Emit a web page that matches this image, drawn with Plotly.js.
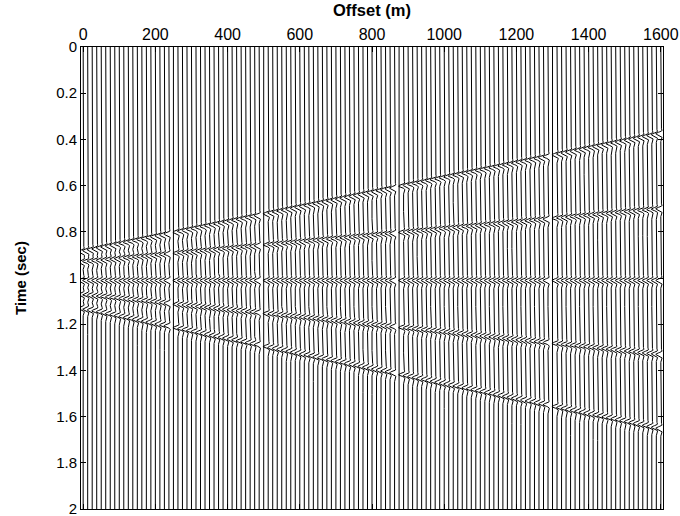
<!DOCTYPE html>
<html><head><meta charset="utf-8">
<script src="https://cdn.plot.ly/plotly-3.0.1.min.js"></script>
<style>html,body{margin:0;padding:0;background:#fff}#chart{width:680px;height:516px}</style>
</head><body><div id="chart"></div>
<script>
// Trace offsets (m)
const traceSpacing = 12.5;
const offsets = [];
for (let i = 0; i <= 128; i++) offsets.push(i * traceSpacing);
// Dead traces (gaps in events)
const deadOffsets = [250, 500, 875, 1300];
// Events: time at offset 0 and at offset 1600 (s)
const eventT0 = [0.885, 0.930, 1.010, 1.070, 1.130];
const eventT1 = [0.375, 0.700, 1.010, 1.330, 1.650];
const xTicks = [0, 200, 400, 600, 800, 1000, 1200, 1400, 1600];
const yTicks = [0, 0.2, 0.4, 0.6, 0.8, 1, 1.2, 1.4, 1.6, 1.8, 2];
const yTickText = ['0','0.2','0.4','0.6','0.8','1','1.2','1.4','1.6','1.8','2'];

const f0 = 28, sideLobe = 1.4, amp = 14, dt = 0.001, tMax = 2.0;
function wavelet(t){ const a = Math.PI*Math.PI*f0*f0*t*t; return (1-sideLobe*a)*Math.exp(-a); }

const xs = [], ys = [];
offsets.forEach(off => {
  const dead = deadOffsets.some(d => Math.abs(d-off) < 1e-6);
  for (let k = 0; k <= Math.round(tMax/dt); k++) {
    const t = k*dt;
    let s = 0;
    if (!dead) {
      for (let e = 0; e < eventT0.length; e++) {
        const te = eventT0[e] + (eventT1[e]-eventT0[e]) * off/1600;
        s += wavelet(t - te);
      }
    }
    xs.push(off - amp*s); ys.push(t);
  }
  xs.push(null); ys.push(null);
});

const data = [{x: xs, y: ys, type: 'scatter', mode: 'lines',
  line: {color: '#000', width: 1}, hoverinfo: 'skip', showlegend: false}];

const layout = {
  width: 680, height: 516,
  margin: {l: 81, r: 17, t: 47, b: 7},
  paper_bgcolor: '#fff', plot_bgcolor: '#fff',
  font: {family: 'Liberation Sans, Arial, sans-serif', size: 15.5, color: '#000'},
  xaxis: {range: [-6, 1606], side: 'top', tickvals: xTicks, ticktext: xTicks.map(String),
    ticks: 'inside', ticklen: 5, tickcolor: '#000', showgrid: false, zeroline: false,
    showline: true, linecolor: '#000', linewidth: 1, mirror: 'ticks',
    tickfont: {size: 16}},
  yaxis: {range: [2, 0], tickvals: yTicks, ticktext: yTickText,
    ticks: 'inside', ticklen: 5, tickcolor: '#000', showgrid: false, zeroline: false,
    showline: true, linecolor: '#000', linewidth: 1, mirror: 'ticks',
    ticklabeloverflow: 'allow',
    tickfont: {size: 15}},
  annotations: [
    {text: '<b>Offset (m)</b>', xref: 'paper', yref: 'paper', x: 0.5, y: 1,
     xanchor: 'center', yanchor: 'middle', yshift: 37, showarrow: false, font: {size: 16.5}},
    {text: '<b>Time (sec)</b>', xref: 'paper', yref: 'paper', x: 0, y: 0.5,
     xanchor: 'center', yanchor: 'middle', xshift: -61, textangle: -90, showarrow: false, font: {size: 15}}
  ]
};
Plotly.newPlot('chart', data, layout, {displayModeBar: false, staticPlot: true});
</script></body></html>
